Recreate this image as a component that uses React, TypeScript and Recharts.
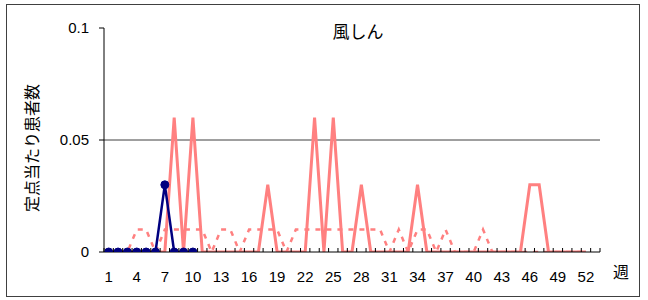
import { LineChart, Line, XAxis, YAxis, ReferenceLine } from 'recharts';
import type { ReactElement } from 'react';

// week numbers on the x axis
const WEEKS = [
  1, 2, 3, 4, 5, 6, 7, 8, 9, 10, 11, 12, 13, 14, 15, 16, 17, 18, 19, 20, 21, 22, 23, 24, 25, 26,
  27, 28, 29, 30, 31, 32, 33, 34, 35, 36, 37, 38, 39, 40, 41, 42, 43, 44, 45, 46, 47, 48, 49, 50, 51, 52,
];
const WEEK_LABELS = [1, 4, 7, 10, 13, 16, 19, 22, 25, 28, 31, 34, 37, 40, 43, 46, 49, 52];

// current year (first 10 weeks reported)
const THIS_YEAR = [0, 0, 0, 0, 0, 0, 0.03, 0, 0, 0];

// previous year
const LAST_YEAR = [
  0, 0, 0, 0, 0, 0, 0, 0.06, 0, 0.06, 0, 0, 0, 0, 0, 0, 0, 0.03, 0, 0, 0, 0, 0.06, 0, 0.06, 0,
  0, 0.03, 0, 0, 0, 0, 0, 0.03, 0, 0, 0, 0, 0, 0, 0, 0, 0, 0, 0, 0.03, 0.03, 0, 0, 0, 0, 0,
];

// past years average (dashed)
const AVERAGE = [
  0, 0, 0, 0.01, 0.01, 0, 0.01, 0.01, 0.01, 0.01, 0.01, 0, 0.01, 0.01, 0, 0.01, 0.01, 0.01, 0.01, 0, 0.01, 0.01, 0.01, 0.01, 0.01, 0.01,
  0.01, 0.01, 0.01, 0.01, 0, 0.01, 0, 0.01, 0.01, 0, 0.01, 0, 0, 0, 0.01, 0, 0, 0, 0, 0, 0, 0, 0, 0, 0, 0,
];

const Y_TICKS = [0, 0.05, 0.1];

const FONT = '"Liberation Sans", Arial, "Noto Sans CJK JP", sans-serif';

const data = WEEKS.map((w, i) => ({
  week: w,
  lastYear: LAST_YEAR[i],
  average: AVERAGE[i],
  thisYear: i < THIS_YEAR.length ? THIS_YEAR[i] : null,
}));

// tick marks sit on the boundaries between weeks, labels in the middle of a week
const BOUNDARIES = Array.from({ length: 54 }, (_, i) => i + 0.5);
const X_TICKS = [...BOUNDARIES, ...WEEK_LABELS].sort((a, b) => a - b);

function WeekTick(props: any): ReactElement {
  const { x, y, payload } = props;
  const v = payload.value;
  if (Number.isInteger(v)) {
    return (
      <text x={x} y={y + 30} textAnchor="middle" fontSize={15} fill="#000" fontFamily={FONT}>
        {v}
      </text>
    );
  }
  return <line x1={x} x2={x} y1={y} y2={y - 4} stroke="#000" strokeWidth={1} />;
}

export default function App(): ReactElement {
  return (
    <div style={{ position: 'absolute', left: 0, top: 0, width: 648, height: 300, background: '#fff', fontFamily: FONT }}>
      <div
        style={{
          position: 'absolute',
          left: 6,
          top: 4,
          width: 632,
          height: 291,
          border: '1px solid #404040',
        }}
      />
      <div style={{ position: 'absolute', left: 308, top: 18, width: 100, textAlign: 'center', fontSize: 17, color: '#000' }}>
        風しん
      </div>
      <div
        style={{
          position: 'absolute',
          left: 31,
          top: 148,
          fontSize: 16,
          color: '#000',
          whiteSpace: 'nowrap',
          transform: 'translate(-50%, -50%) rotate(-90deg)',
        }}
      >
        定点当たり患者数
      </div>
      <div style={{ position: 'absolute', left: 613, top: 259, fontSize: 16, color: '#000' }}>週</div>
      <LineChart
        width={648}
        height={300}
        data={data}
        margin={{ top: 28, right: 48, bottom: 18, left: 44 }}
        style={{ position: 'absolute', left: 0, top: 0 }}
      >
        <ReferenceLine y={0.05} stroke="#404040" strokeWidth={1} />
        <XAxis
          dataKey="week"
          type="number"
          domain={[0.5, 53.5]}
          ticks={X_TICKS}
          interval={0}
          tickSize={0}
          tickMargin={0}
          tickLine={false}
          tick={<WeekTick />}
          axisLine={{ stroke: '#000', strokeWidth: 1 }}
          height={30}
          allowDataOverflow
        />
        <YAxis
          domain={[0, 0.1]}
          ticks={Y_TICKS}
          interval={0}
          width={60}
          tickSize={5}
          tickMargin={10}
          tickLine={{ stroke: '#000' }}
          axisLine={{ stroke: '#000', strokeWidth: 1 }}
          tick={{ fontSize: 15, fill: '#000', fontFamily: FONT }}
          tickFormatter={(v: number) => String(v)}
          allowDataOverflow
        />
        <Line
          dataKey="average"
          stroke="#FF8080"
          strokeWidth={2.5}
          strokeDasharray="5 6"
          dot={false}
          activeDot={false}
          isAnimationActive={false}
        />
        <Line
          dataKey="lastYear"
          stroke="#FF8080"
          strokeWidth={3}
          dot={false}
          activeDot={false}
          isAnimationActive={false}
        />
        <Line
          dataKey="thisYear"
          stroke="#000080"
          strokeWidth={2.5}
          dot={{ r: 4, fill: '#000080', stroke: '#000080', strokeWidth: 1 }}
          activeDot={false}
          isAnimationActive={false}
        />
      </LineChart>
    </div>
  );
}
